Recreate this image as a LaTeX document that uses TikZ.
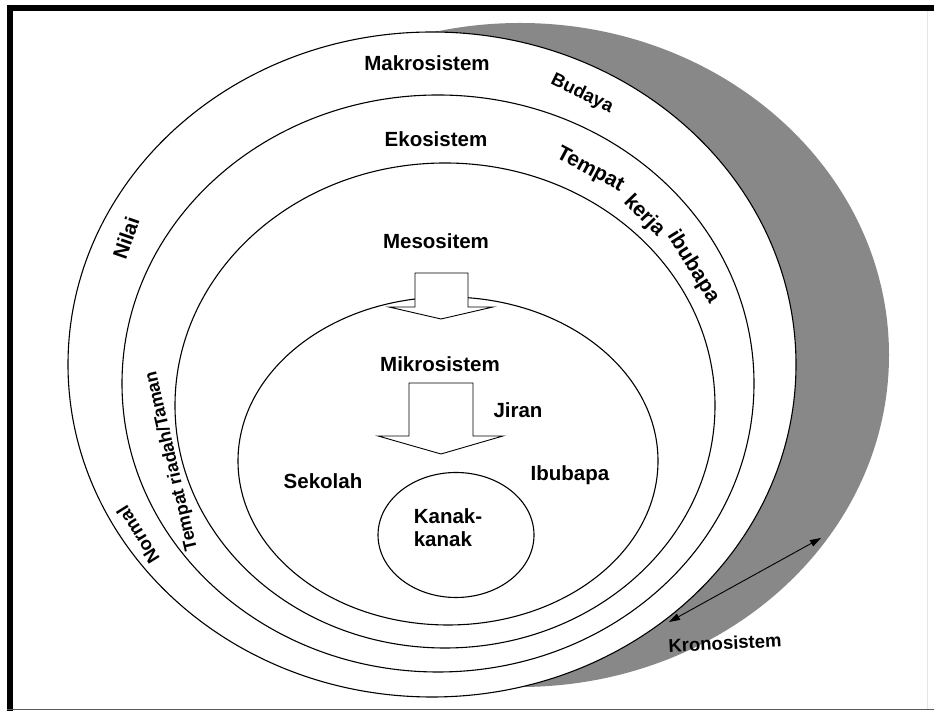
\documentclass[tikz,border=0pt]{standalone}
\usepackage{fontspec}
\setmainfont{Liberation Sans}
\usepackage{tikz}
\usetikzlibrary{arrows.meta,backgrounds,positioning,shapes.geometric}
\definecolor{kronogray}{RGB}{136,136,136}
\definecolor{edgegray}{RGB}{90,90,90}

\begin{document}
\begin{tikzpicture}[x=1pt, y=1pt, >={Triangle[length=11pt,width=7pt]},
			ring/.style={draw, ellipse, line width=1.1pt, fill=white, inner sep=0pt},
			word/.style={draw=none, inner sep=0pt, text=black, font=\bfseries\fontsize{20.5}{23}\selectfont},
			ringword/.style={word, font=\bfseries\fontsize{18.5}{20}\selectfont},
			kerjaword/.style={word, font=\bfseries\fontsize{21}{23}\selectfont},
			blockArrow/.style={draw, line width=0.9pt, fill=white, line join=miter},
			kronoLine/.style={line width=0.9pt, <->}
			]
			\useasboundingbox (0,0) rectangle (934,711);
			
			% frame
			\draw[line width=6pt] (7,703) -- (934,703);
			\draw[line width=6pt] (10,706) -- (10,0);
			\draw[edgegray, line width=1.5pt] (7,1.5) -- (934,1.5);
			\draw[gray!20, line width=1pt] (927,700) -- (927,2);
			
			\node[ring, minimum width=728pt, minimum height=665pt](makro) at (432,346.5) {};
			\node[ring, minimum width=632pt, minimum height=577pt](eko) at (438,327.5) {};
			\node[ring, minimum width=540pt, minimum height=485pt](meso) at (445,305.5) {};
			\node[ring, minimum width=420pt, minimum height=328pt](mikro) at (448,250) {};
			\node[ring, minimum width=156pt, minimum height=125pt](kanak) at (456,176) {};
			
			\coordinate (mesoTip) at (441,392);
			\draw[blockArrow] (mesoTip) -- ++(52,12) -- ++(-25,0) -- ++(0,34) -- ++(-53,0) -- ++(0,-34) -- ++(-26,0) -- cycle;
			\coordinate (mikroTip) at (441,257);
			\draw[blockArrow] (mikroTip) -- ++(62,18) -- ++(-30,0) -- ++(0,53) -- ++(-64,0) -- ++(0,-53) -- ++(-31,0) -- cycle;
			
			\node[word, xshift=-5pt](makroLbl) [below = 24pt of makro.north] {Makrosistem};
			\node[word, xshift=-2pt](ekoLbl) [below = 37pt of eko.north] {Ekosistem};
			\node[word, xshift=-9pt](mesoLbl) [below = 71pt of meso.north] {Mesositem};
			\node[word, xshift=-8pt](mikroLbl) [below = 60pt of mikro.north] {Mikrosistem};
			\node[word](jiranLbl) at (518,301) {Jiran};
			\node[word](ibubapaLbl) at (570,236) {Ibubapa};
			\node[word](sekolahLbl) at (323,230) {Sekolah};
			\node[word, align=left](kanakLbl) at (448,183) {Kanak-\\kanak};
			
			% ring texts
			\node[word, rotate=71](nilaiLbl) at (126,473) {Nilai};
			\node[ringword, rotate=122](normalLbl) at (138,176) {Normal};
			\node[ringword, font=\bfseries\fontsize{18}{20}\selectfont, rotate=103](riadahLbl) at (172,250) {Tempat riadah/Taman};
			\node[ringword, rotate=-26](budayaLbl) at (582,617) {Budaya};
			\node[kerjaword, rotate=-28](kerjaA) at (590,541) {Tempat};
			\node[kerjaword, rotate=-46](kerjaB) at (644,495) {kerja};
			\node[kerjaword, rotate=-58](kerjaC) at (693,444) {ibubapa};
			\node[ringword, rotate=3](kronoLbl) at (725,68) {Kronosistem};
			
			\coordinate (kronoTop) at (821,173);
			\coordinate (kronoBot) at (669,89);
			\draw[kronoLine] (kronoBot) -- (kronoTop);
			
			\begin{pgfonlayer}{background}
			\node[ellipse, fill=kronogray, inner sep=0pt, minimum width=738pt, minimum height=664pt](krono) at (520,356) {};
			\end{pgfonlayer}
			
\end{tikzpicture}
\end{document}
